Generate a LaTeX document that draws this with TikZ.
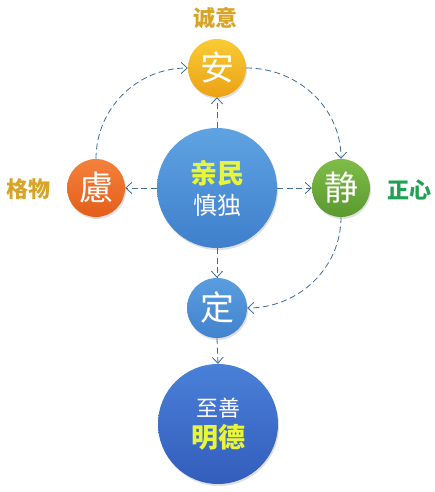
\documentclass[tikz,border=0pt]{standalone}
\usepackage{fontspec}
\usepackage{tikz}
\usetikzlibrary{arrows.meta, positioning, shadows}
\usepackage{xcolor}
\newfontfamily\cjk{Noto Sans CJK SC}

\definecolor{tagGold}{HTML}{D8A428}
\definecolor{tagGreen}{HTML}{1FA052}
\definecolor{linkBlue}{HTML}{3D6A96}
\definecolor{hiYellow}{HTML}{E8F53A}
\definecolor{anTop}{HTML}{F9CB35}
\definecolor{anBot}{HTML}{EBA214}
\definecolor{lvTop}{HTML}{F5813C}
\definecolor{lvBot}{HTML}{E35E1A}
\definecolor{jingTop}{HTML}{7FBC48}
\definecolor{jingBot}{HTML}{5A992F}
\definecolor{qinTop}{HTML}{5FA3E2}
\definecolor{qinBot}{HTML}{3F7FCC}
\definecolor{dingTop}{HTML}{5A9DDE}
\definecolor{dingBot}{HTML}{4283CE}
\definecolor{zhiTop}{HTML}{4A80D8}
\definecolor{zhiBot}{HTML}{335DBC}

\begin{document}
\begin{tikzpicture}
    [x=1pt, y=1pt,
     every node/.style={circle, inner sep=0pt, text=white, align=center, font=\cjk},
     ball/.style={drop shadow={shadow xshift=1pt, shadow yshift=-2pt, opacity=0.25}},
     small/.style={ball, minimum size=58pt, font=\cjk\fontsize{34}{36}\selectfont},
     big/.style={ball, minimum size=120pt, font=\cjk\fontsize{24}{31}\selectfont},
     tag/.style={rectangle, font=\cjk\bfseries\fontsize{22}{24}\selectfont},
     link/.style={draw=linkBlue, line width=0.8pt, dash pattern=on 6pt off 3.5pt,
                  -{Straight Barb[length=6pt, width=11pt]}}]

    \useasboundingbox (0,0) rectangle (435,492);

    \node[small, top color=anTop, bottom color=anBot] (an) at (217,424) {安};
    \node[small, top color=lvTop, bottom color=lvBot] (lv) at (96,304) {慮};
    \node[small, top color=jingTop, bottom color=jingBot] (jing) at (341,304) {静};
    \node[big, top color=qinTop, bottom color=qinBot] (qin) at (217,304)
        {{\bfseries\fontsize{27}{31}\selectfont\color{hiYellow}亲民}\\慎独};
    \node[small, minimum size=60pt, top color=dingTop, bottom color=dingBot] (ding) at (217,184) {定};
    \node[big, top color=zhiTop, bottom color=zhiBot] (zhi) at (218,68)
        {{\fontsize{22}{31}\selectfont 至善}\\{\bfseries\fontsize{27}{31}\selectfont\color{hiYellow}明德}};

    \node[tag, text=tagGold] (cy) at (215,474) {诚意};
    \node[tag, text=tagGold] (gw) at (28,303) {格物};
    \node[tag, text=tagGreen] (zx) at (409,302) {正心};

    % loop round the centre
    \draw[link] (lv.north) to[out=90, in=180] (an.west);
    \draw[link] (an.east) to[out=0, in=90] (jing.north);
    \draw[link] (jing.south) to[out=-90, in=0] (ding.east);

    % out of the centre
    \draw[link] (qin.north) -- (an.south);
    \draw[link] (qin.west) -- (lv.east);
    \draw[link] (qin.east) -- (jing.west);
    \draw[link] (qin.south) -- (ding.north);
    \draw[link] (ding.south) -- (zhi.north);
\end{tikzpicture}
\end{document}
